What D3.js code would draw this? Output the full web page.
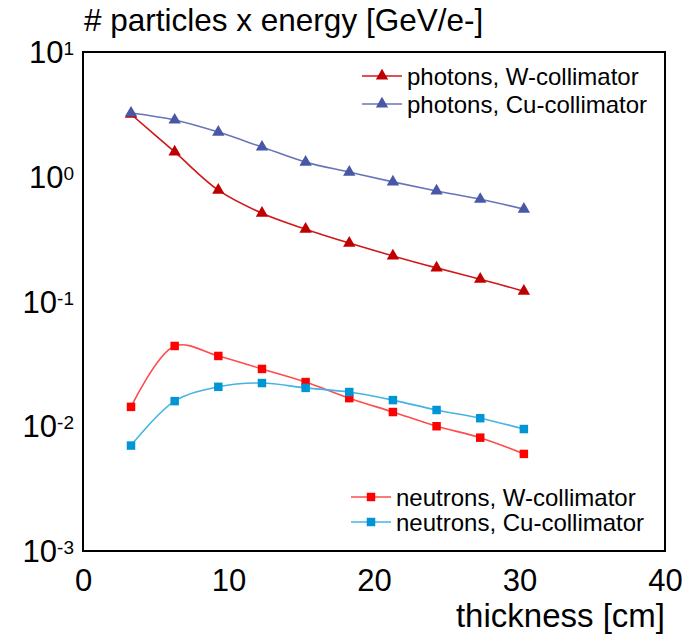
<!DOCTYPE html>
<html>
<head>
<meta charset="utf-8">
<script src="https://cdn.jsdelivr.net/npm/d3@7"></script>
<style>
    body { margin: 0; background: #fff; }
    text { font-family: "Liberation Sans", Arial, sans-serif; fill: #000; }
</style>
</head>
<body>
<div id="chart"></div>
<script>
// thickness values (cm)
var thickness = [3.3, 6.3, 9.3, 12.3, 15.3, 18.3, 21.3, 24.3, 27.3, 30.3];

// # particles x energy per series
var photonsW  = [3.17, 1.58, 0.78, 0.51, 0.38, 0.294, 0.232, 0.186, 0.151, 0.121];
var photonsCu = [3.24, 2.85, 2.28, 1.73, 1.31, 1.09, 0.91, 0.77, 0.66, 0.55];
var neutronsW  = [0.0143, 0.0440, 0.0366, 0.0288, 0.0226, 0.0168, 0.0130, 0.0100, 0.0081, 0.0060];
var neutronsCu = [0.0070, 0.0159, 0.0207, 0.0222, 0.0203, 0.0188, 0.0162, 0.0135, 0.0116, 0.0095];

var xTicks = [0, 10, 20, 30, 40];
var yExponents = [1, 0, -1, -2, -3];

var series = [
    { name: "photons, W-collimator",  values: photonsW,   symbol: d3.symbolTriangle, size: 66, fill: "#c00000", line: "#d01818" },
    { name: "photons, Cu-collimator", values: photonsCu,  symbol: d3.symbolTriangle, size: 66, fill: "#4858a6", line: "#6675b8" },
    { name: "neutrons, W-collimator", values: neutronsW,  symbol: d3.symbolSquare,   size: 72, fill: "#ff0000", line: "#ff4c4c" },
    { name: "neutrons, Cu-collimator", values: neutronsCu, symbol: d3.symbolSquare,  size: 72, fill: "#0096d6", line: "#45b4e2" }
];

var width = 692, height = 636;
var margin = { top: 52, right: 27, bottom: 85, left: 83 };

var svg = d3.select("#chart").append("svg")
    .attr("width", width)
    .attr("height", height);

var x = d3.scaleLinear()
    .domain([0, 40])
    .range([margin.left, width - margin.right]);

var y = d3.scaleLog()
    .domain([1e-3, 10])
    .range([height - margin.bottom, margin.top]);

// title
svg.append("text")
    .attr("x", 84)
    .attr("y", 31)
    .style("font-size", "31.5px")
    .text("# particles x energy [GeV/e-]");

// x axis labels
var xAxis = svg.append("g")
    .attr("transform", "translate(0," + (height - margin.bottom) + ")")
    .call(d3.axisBottom(x).tickValues(xTicks).tickSize(0).tickPadding(0));
xAxis.select(".domain").remove();
xAxis.selectAll("text")
    .attr("y", 40)
    .attr("dy", null)
    .style("font-size", "31px")
    .style("font-family", "Liberation Sans, Arial, sans-serif")
    .attr("fill", "#000");

svg.append("text")
    .attr("x", width - margin.right)
    .attr("y", 627)
    .attr("text-anchor", "end")
    .style("font-size", "33px")
    .text("thickness [cm]");

// y axis labels with superscripts
var yLabels = svg.append("g").selectAll("text")
    .data(yExponents)
    .enter()
    .append("text")
    .attr("x", 74)
    .attr("y", function(d) { return y(Math.pow(10, d)) + 11; })
    .attr("text-anchor", "end")
    .style("font-size", "31px");
yLabels.append("tspan").text("10");
yLabels.append("tspan")
    .attr("dy", -8)
    .style("font-size", "19px")
    .text(function(d) { return d; });

// smoothed lines
var line = d3.line()
    .x(function(d) { return x(d[0]); })
    .y(function(d) { return y(d[1]); })
    .curve(d3.curveCatmullRom.alpha(0.5));

series.forEach(function(s) {
    var pts = thickness.map(function(t, i) { return [t, s.values[i]]; });

    svg.append("path")
        .datum(pts)
        .attr("fill", "none")
        .attr("stroke", s.line)
        .attr("stroke-width", 1.6)
        .attr("d", line);

    svg.append("g").selectAll("path")
        .data(pts)
        .enter()
        .append("path")
        .attr("transform", function(d) { return "translate(" + x(d[0]) + "," + y(d[1]) + ")"; })
        .attr("d", d3.symbol().type(s.symbol).size(s.size))
        .attr("fill", s.fill);
});

// frame
svg.append("rect")
    .attr("x", margin.left)
    .attr("y", margin.top)
    .attr("width", width - margin.left - margin.right)
    .attr("height", height - margin.top - margin.bottom)
    .attr("fill", "none")
    .attr("stroke", "#000")
    .attr("stroke-width", 2);

// legends
var legendPos = [
    { x: 362, y: 76 },
    { x: 362, y: 104 },
    { x: 351, y: 497 },
    { x: 351, y: 522 }
];

series.forEach(function(s, i) {
    var p = legendPos[i];
    var g = svg.append("g").attr("transform", "translate(" + p.x + "," + p.y + ")");
    g.append("line")
        .attr("x1", 0).attr("x2", 40)
        .attr("y1", 0).attr("y2", 0)
        .attr("stroke", s.line)
        .attr("stroke-width", 1.6);
    g.append("path")
        .attr("transform", "translate(20,0)")
        .attr("d", d3.symbol().type(s.symbol).size(s.size))
        .attr("fill", s.fill);
    g.append("text")
        .attr("x", 45)
        .attr("y", 8.5)
        .style("font-size", "24px")
        .text(s.name);
});
</script>
</body>
</html>
